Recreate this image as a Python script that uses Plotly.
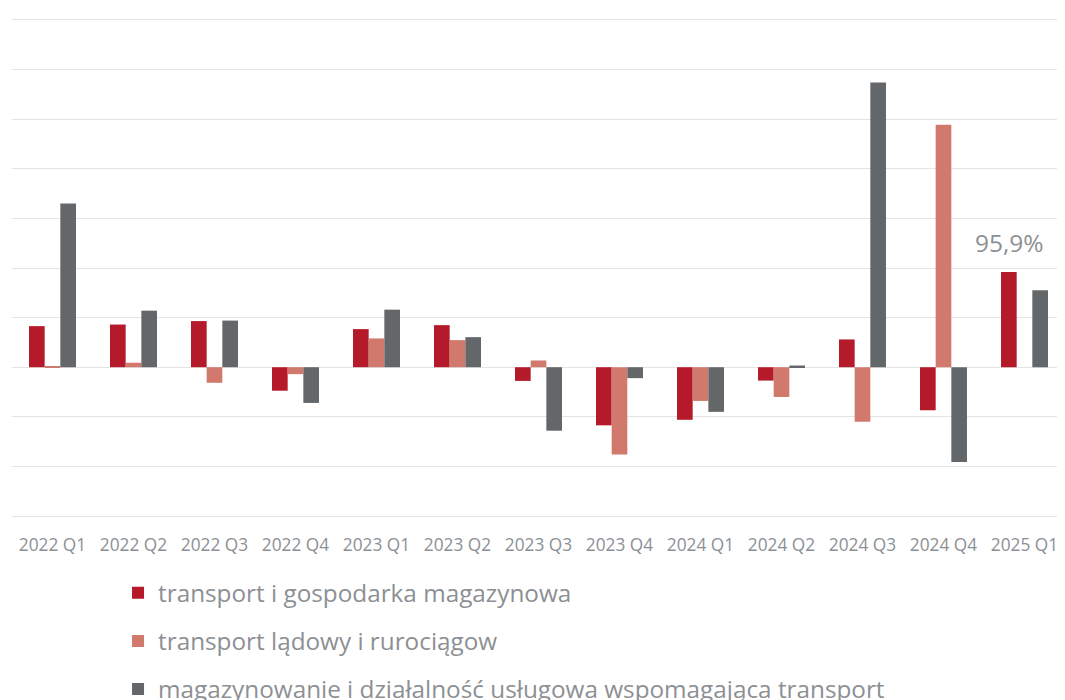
import plotly.graph_objects as go

categories = ["2022 Q1", "2022 Q2", "2022 Q3", "2022 Q4", "2023 Q1", "2023 Q2", "2023 Q3",
              "2023 Q4", "2024 Q1", "2024 Q2", "2024 Q3", "2024 Q4", "2025 Q1"]

transport_gosp = [41.4, 43.0, 46.5, -23.7, 38.4, 42.4, -13.8, -58.6, -53.0, -13.5, 28.0, -43.4, 95.9]
transport_ladowy = [0.8, 4.5, -15.7, -7.0, 29.0, 27.3, 6.8, -88.0, -34.0, -30.0, -55.0, 244.5, None]
magazynowanie = [165.0, 57.0, 47.0, -36.0, 58.0, 30.3, -64.0, -11.0, -45.0, 1.7, 287.0, -95.6, 77.5]

series_names = ["transport i gospodarka magazynowa",
                "transport lądowy i rurociągow",
                "magazynowanie i działalność usługowa wspomagająca transport"]
colors = ["#B51A2B", "#D2796D", "#636769"]

annotation_text = "95,9%"
text_color = "#8c9094"
font_family = "Open Sans"

fig = go.Figure()
for i, (name, vals, col) in enumerate(zip(series_names,
                                          [transport_gosp, transport_ladowy, magazynowanie],
                                          colors)):
    fig.add_trace(go.Bar(
        x=categories, y=vals, name=name,
        marker=dict(color=col, line=dict(width=0)),
        legendgroup=f"g{i}",
    ))

fig.add_annotation(x=categories[-1], y=transport_gosp[-1], text=annotation_text,
                   showarrow=False, yshift=30, xshift=-15,
                   font=dict(size=24.5, color=text_color, family=font_family))

# page body adds an 8px offset, so the figure is 8px smaller in each direction
fig.update_layout(
    width=1057, height=692,
    margin=dict(l=4, r=0, t=10, b=182, autoexpand=False),
    plot_bgcolor="white", paper_bgcolor="white",
    barmode="group", bargap=0.42, bargroupgap=0,
    font=dict(family=font_family, color=text_color),
    xaxis=dict(showgrid=False, showline=False, zeroline=False, automargin=False,
               tickfont=dict(size=17.3, color=text_color),
               ticklabelstandoff=15),
    yaxis=dict(range=[-152, 352], dtick=50, showgrid=True, gridcolor="#e4e4e4",
               gridwidth=1.3, zeroline=True, zerolinecolor="#e4e4e4", zerolinewidth=1.3,
               showticklabels=False, showline=False, automargin=False),
    showlegend=True,
    legend=dict(orientation="v", x=0.1007, xanchor="left", y=-0.105, yanchor="top",
                font=dict(size=24.3, color=text_color, family=font_family),
                tracegroupgap=13.5, bgcolor="rgba(0,0,0,0)"),
)

fig.write_html("out.html")
